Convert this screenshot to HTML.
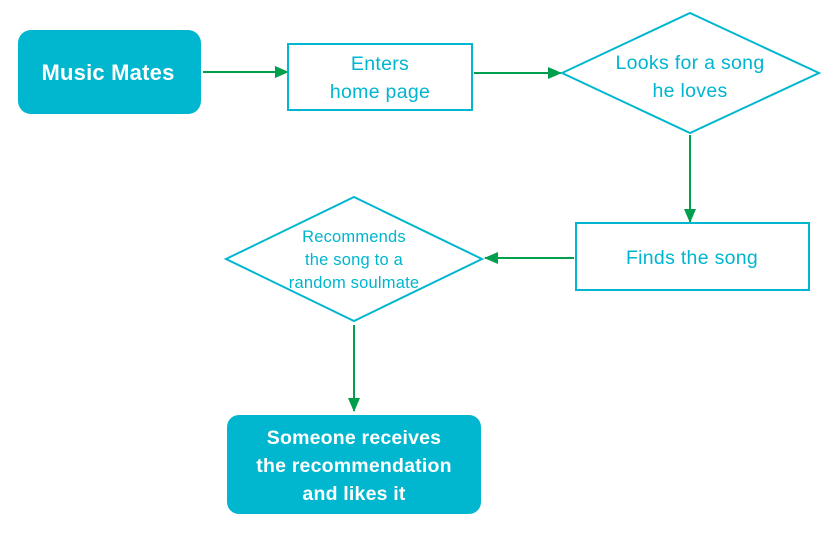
<!DOCTYPE html>
<html><head><meta charset="utf-8"><style>
html,body{margin:0;padding:0;background:#fff;}
svg{display:block;}
text{font-family:"Liberation Sans",sans-serif;text-anchor:middle;}
.t{fill:#00b5cf;font-size:19.5px;letter-spacing:0.3px;}
.w{fill:#fff;font-size:19.5px;font-weight:bold;letter-spacing:0.2px;}
</style></head><body>
<svg width="839" height="556" viewBox="0 0 839 556">
<defs><marker id="a" markerWidth="14" markerHeight="12" refX="13" refY="6" orient="auto" markerUnits="userSpaceOnUse"><path d="M0,0 L14,6 L0,12 Z" fill="#009f4d"/></marker></defs>
<rect x="18" y="30" width="183" height="84" rx="13" fill="#00b7cf"/>
<text class="w" x="108" y="80" style="font-size:22px">Music Mates</text>
<line x1="203" y1="72" x2="288" y2="72" stroke="#009f4d" stroke-width="2" marker-end="url(#a)"/>
<rect x="288" y="44" width="184" height="66" fill="#fff" stroke="#00b7cf" stroke-width="2"/>
<text class="t" x="380" y="70">Enters</text>
<text class="t" x="380" y="98">home page</text>
<line x1="474" y1="73" x2="561" y2="73" stroke="#009f4d" stroke-width="2" marker-end="url(#a)"/>
<polygon points="562,73 690,13 819,73 690,133" fill="#fff" stroke="#00b7cf" stroke-width="2"/>
<text class="t" x="690" y="69">Looks for a song</text>
<text class="t" x="690" y="97">he loves</text>
<line x1="690" y1="135" x2="690" y2="222" stroke="#009f4d" stroke-width="2" marker-end="url(#a)"/>
<rect x="576" y="223" width="233" height="67" fill="#fff" stroke="#00b7cf" stroke-width="2"/>
<text class="t" x="692" y="264">Finds the song</text>
<line x1="574" y1="258" x2="485" y2="258" stroke="#009f4d" stroke-width="2" marker-end="url(#a)"/>
<polygon points="226,259 354,197 482,259 354,321" fill="#fff" stroke="#00b7cf" stroke-width="2"/>
<text class="t" x="354" y="242" style="font-size:16.5px;letter-spacing:0.2px">Recommends</text>
<text class="t" x="354" y="265" style="font-size:16.5px;letter-spacing:0.2px">the song to a</text>
<text class="t" x="354" y="288" style="font-size:16.5px;letter-spacing:0.2px">random soulmate</text>
<line x1="354" y1="325" x2="354" y2="411" stroke="#009f4d" stroke-width="2" marker-end="url(#a)"/>
<rect x="227" y="415" width="254" height="99" rx="12" fill="#00b7cf"/>
<text class="w" x="354" y="444">Someone receives</text>
<text class="w" x="354" y="472">the recommendation</text>
<text class="w" x="354" y="500">and likes it</text>
</svg>
</body></html>
